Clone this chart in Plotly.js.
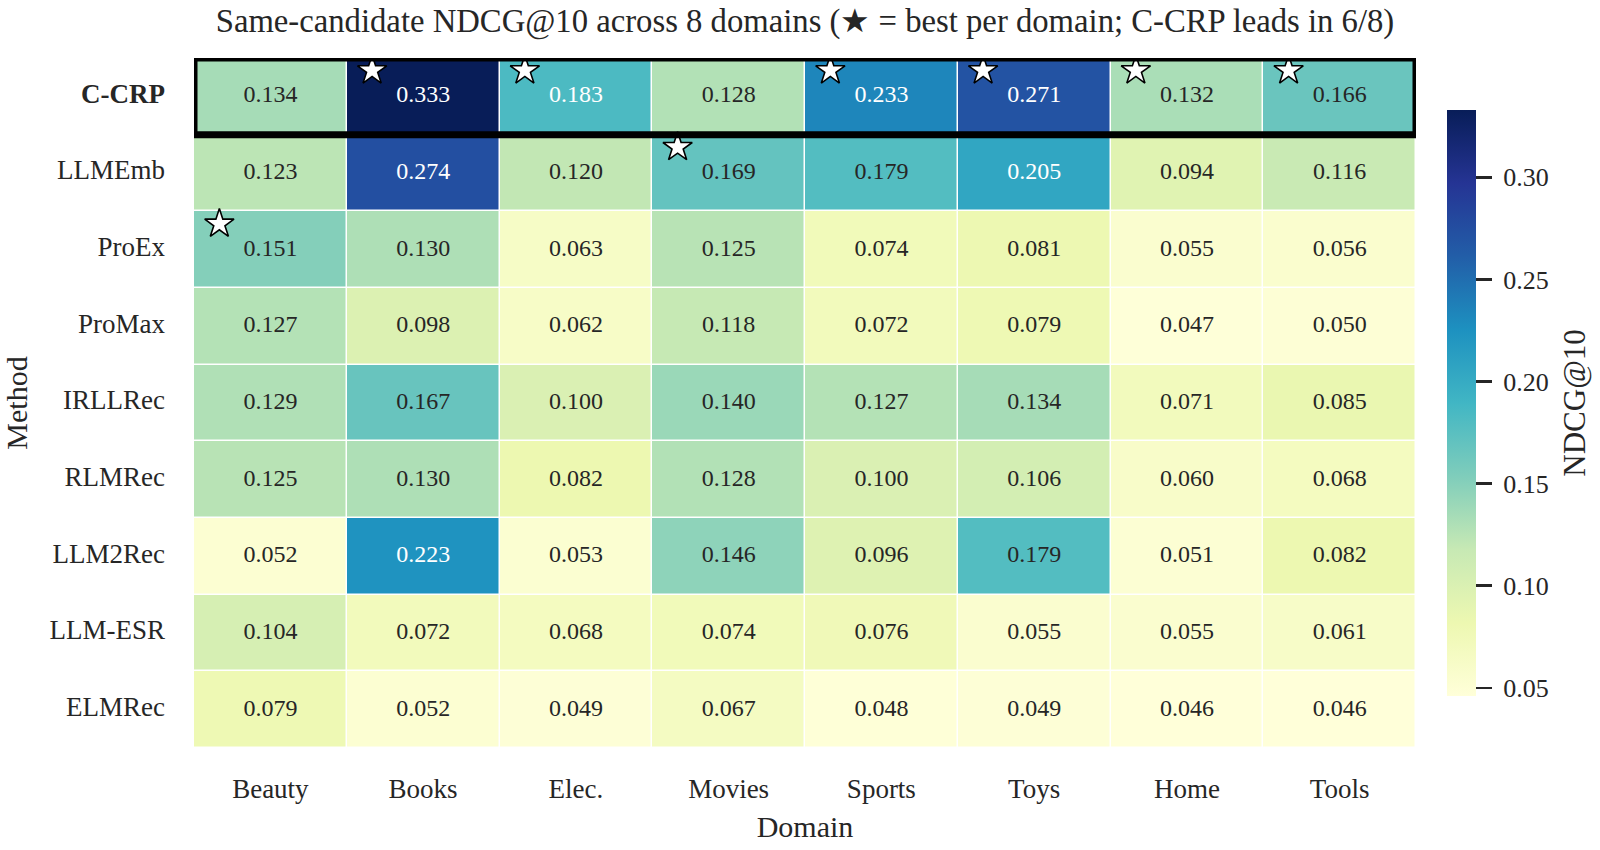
<!DOCTYPE html>
<html>
<head>
<meta charset="utf-8">
<script src="https://cdn.plot.ly/plotly-3.0.1.min.js"></script>
<style>html,body{margin:0;padding:0;background:#fff;}#chart{width:1600px;height:850px;}</style>
</head>
<body>
<div id="chart"></div>
<script>
const domains = ["Beauty", "Books", "Elec.", "Movies", "Sports", "Toys", "Home", "Tools"];
const methods = ["C-CRP", "LLMEmb", "ProEx", "ProMax", "IRLLRec", "RLMRec", "LLM2Rec", "LLM-ESR", "ELMRec"];
const ccrp    = [0.134, 0.333, 0.183, 0.128, 0.233, 0.271, 0.132, 0.166];
const llmemb  = [0.123, 0.274, 0.120, 0.169, 0.179, 0.205, 0.094, 0.116];
const proex   = [0.151, 0.130, 0.063, 0.125, 0.074, 0.081, 0.055, 0.056];
const promax  = [0.127, 0.098, 0.062, 0.118, 0.072, 0.079, 0.047, 0.050];
const irllrec = [0.129, 0.167, 0.100, 0.140, 0.127, 0.134, 0.071, 0.085];
const rlmrec  = [0.125, 0.130, 0.082, 0.128, 0.100, 0.106, 0.060, 0.068];
const llm2rec = [0.052, 0.223, 0.053, 0.146, 0.096, 0.179, 0.051, 0.082];
const llmesr  = [0.104, 0.072, 0.068, 0.074, 0.076, 0.055, 0.055, 0.061];
const elmrec  = [0.079, 0.052, 0.049, 0.067, 0.048, 0.049, 0.046, 0.046];
const cbTicks = [0.05, 0.10, 0.15, 0.20, 0.25, 0.30];

const z = [ccrp, llmemb, proex, promax, irllrec, rlmrec, llm2rec, llmesr, elmrec];
const FONT = "Liberation Serif, Times New Roman, serif";
const DARK = "#262626";

const ylgnbu = [
  [0.000, "#ffffd9"], [0.125, "#edf8b1"], [0.250, "#c7e9b4"], [0.375, "#7fcdbb"],
  [0.500, "#41b6c4"], [0.625, "#1d91c0"], [0.750, "#225ea8"], [0.875, "#253494"], [1.000, "#081d58"]
];

let allVals = [].concat(...z);
const zmin = Math.min(...allVals), zmax = Math.max(...allVals);

// cell value labels
const tx = [], ty = [], tt = [], tc = [];
z.forEach((row, i) => row.forEach((v, j) => {
  tx.push(domains[j]); ty.push(methods[i]); tt.push(v.toFixed(3));
  tc.push(v > 0.181 ? "#ffffff" : DARK);
}));

// stars: best per domain
const sx = [], sy = [];
domains.forEach((d, j) => {
  let bi = 0;
  z.forEach((row, i) => { if (row[j] > z[bi][j]) bi = i; });
  sx.push(j - 0.334); sy.push(bi - 0.336);
});

const heat = {
  type: "heatmap", z: z, x: domains, y: methods,
  colorscale: ylgnbu, zmin: zmin, zmax: zmax,
  xgap: 1.5, ygap: 1.5, hoverinfo: "skip",
  colorbar: {
    x: 1.0254, xanchor: "left", xref: "paper", xpad: 0, ypad: 0,
    y: 0.5, yanchor: "middle", len: 586, lenmode: "pixels",
    thickness: 29, outlinewidth: 0,
    tickvals: cbTicks, ticktext: cbTicks.map(v => "\u00a0" + v.toFixed(2) + "\u00a0"),
    ticks: "outside", ticklen: 16, tickwidth: 2.5, tickcolor: DARK,
    tickfont: {family: FONT, size: 26, color: DARK},
    title: {text: "NDCG@10", side: "right", font: {family: FONT, size: 31, color: DARK}}
  }
};

const txt = {
  type: "scatter", mode: "text", x: tx, y: ty, text: tt,
  textfont: {family: FONT, size: 24, color: tc}, textposition: "middle center",
  hoverinfo: "skip", showlegend: false
};

const stars = {
  type: "scatter", mode: "markers", x: sx, y: sy, xaxis: "x2", yaxis: "y2",
  marker: {symbol: "star", size: 22, color: "#ffffff", line: {color: "#000000", width: 1.6}},
  hoverinfo: "skip", showlegend: false
};

const bestRow = methods.indexOf("C-CRP");

const layout = {
  width: 1600, height: 850,
  paper_bgcolor: "#ffffff", plot_bgcolor: "#ffffff",
  margin: {l: 194, r: 184, t: 58, b: 102, autoexpand: false},
  font: {family: FONT, color: DARK},
  title: {
    text: "Same-candidate NDCG@10 across 8 domains (\u2605 = best per domain; C-CRP leads in 6/8)",
    font: {family: FONT, size: 32.7, color: DARK},
    x: 0.5, xref: "paper", xanchor: "center", y: 0.976, yref: "container", yanchor: "middle"
  },
  xaxis: {
    type: "category", categoryarray: domains, showgrid: false, zeroline: false, showline: false,
    ticks: "", ticklabelstandoff: 22,
    tickfont: {family: FONT, size: 27, color: DARK},
    title: {text: "Domain", font: {family: FONT, size: 30, color: DARK}, standoff: 12}
  },
  yaxis: {
    type: "category", categoryarray: methods, autorange: "reversed",
    showgrid: false, zeroline: false, showline: false, ticks: "", ticklabelstandoff: 28,
    ticklabelshift: 3,
    tickvals: methods,
    ticktext: methods.map((m, i) => i === bestRow ? "<b>" + m + "</b>" : m),
    tickfont: {family: FONT, size: 27, color: DARK},
    title: {text: "Method", font: {family: FONT, size: 30, color: DARK}, standoff: 14}
  },
  xaxis2: {overlaying: "x", range: [-0.5, domains.length - 0.5], visible: false, fixedrange: true},
  yaxis2: {overlaying: "y", range: [methods.length - 0.5, -0.5], visible: false, fixedrange: true},
  shapes: [{
    type: "rect", xref: "x2", yref: "y2",
    x0: -0.5, x1: domains.length - 0.5, y0: bestRow - 0.5, y1: bestRow + 0.5,
    line: {color: "#000000", width: 7}, fillcolor: "rgba(0,0,0,0)", layer: "above"
  }],
  hovermode: false
};

Plotly.newPlot("chart", [heat, txt, stars], layout, {displayModeBar: false, staticPlot: true});
</script>
</body>
</html>
